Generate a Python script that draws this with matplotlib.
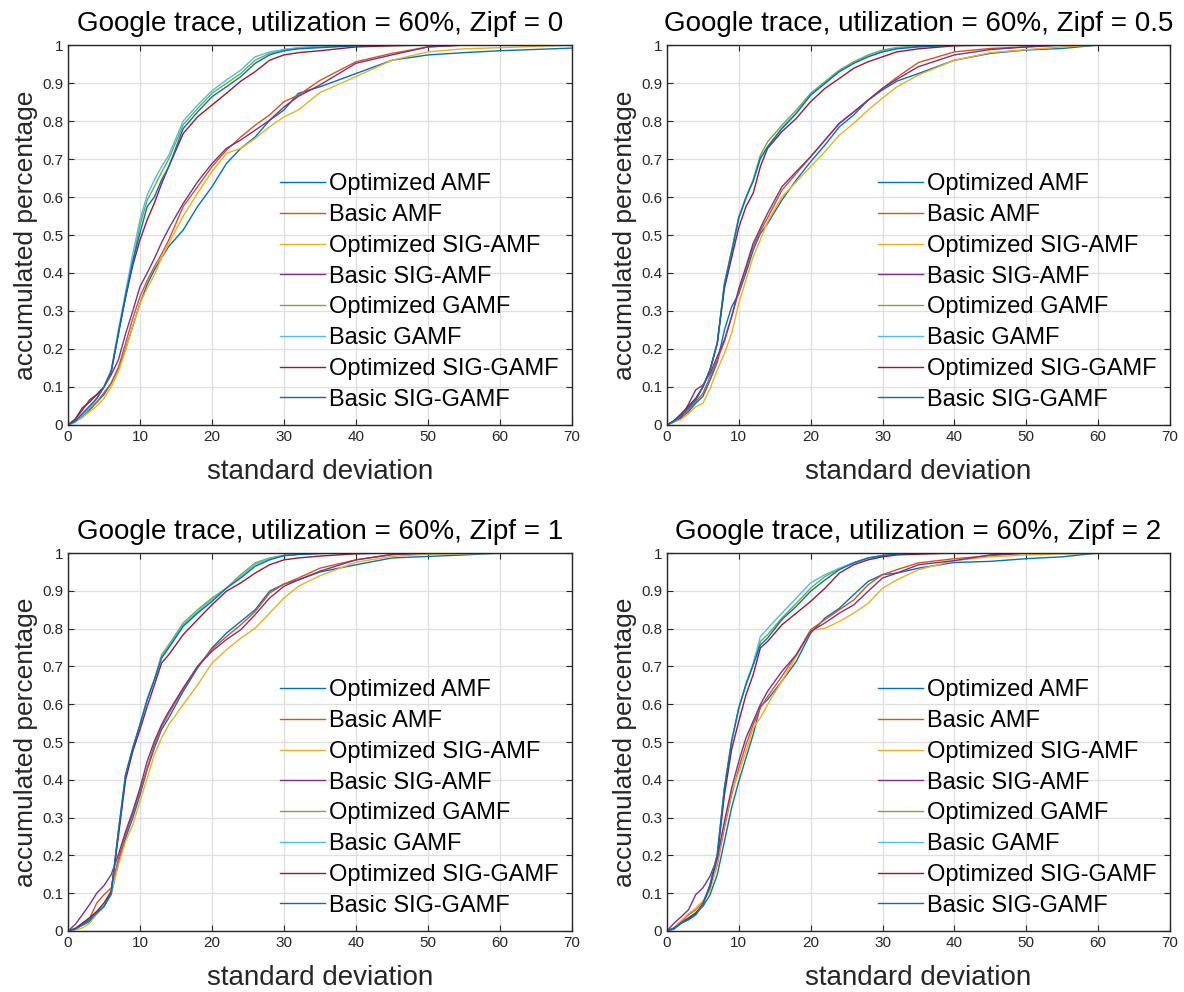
import matplotlib
matplotlib.use("Agg")
import matplotlib.pyplot as plt

plt.rcParams["font.family"] = ["Liberation Sans", "DejaVu Sans"]

# x positions (standard deviation) at which the curves were read
X = [0, 1, 2, 3, 4, 5, 6, 7, 8, 9, 10, 11, 12, 13, 14, 16, 18, 20, 22, 24,
     26, 28, 30, 32, 35, 40, 45, 50, 55, 60, 70]

SERIES = [
    "Optimized AMF", "Basic AMF", "Optimized SIG-AMF", "Basic SIG-AMF",
    "Optimized GAMF", "Basic GAMF", "Optimized SIG-GAMF", "Basic SIG-GAMF",
]
COLORS = ["#0072BD", "#D95319", "#EDB120", "#7E2F8E",
          "#77AC30", "#4DBEEE", "#A2142F", "#0072BD"]

ZIPF = ["0", "0.5", "1", "2"]

# Zipf = 0
z0_opt_amf = [0, .01, .02, .04, .06, .08, .11, .15, .2, .26, .32, .37, .408, .44, .47, .513, .575, .627, .688, .728, .758, .802, .829, .873, .89, .925, .96, .974, .98, .985, .992]
z0_basic_amf = [0, .01, .025, .04, .06, .085, .11, .15, .215, .28, .338, .38, .417, .45, .487, .575, .627, .68, .723, .758, .789, .816, .851, .868, .907, .956, .978, .995, 1, 1, 1]
z0_opt_sig_amf = [0, .008, .02, .035, .05, .07, .1, .14, .197, .26, .32, .36, .395, .44, .478, .55, .61, .667, .715, .728, .754, .785, .811, .829, .875, .917, .96, .982, .99, .993, 1]
z0_basic_sig_amf = [0, .015, .039, .066, .08, .1, .132, .171, .24, .30, .364, .40, .438, .48, .517, .583, .64, .688, .728, .75, .776, .802, .837, .865, .895, .952, .974, .995, 1, 1, 1]
z0_opt_gamf = [0, .008, .025, .045, .07, .1, .14, .24, .34, .43, .526, .592, .627, .665, .70, .79, .833, .873, .899, .925, .96, .978, .988, .992, .995, .998, 1, 1, 1, 1, 1]
z0_basic_gamf = [0, .008, .025, .045, .07, .1, .145, .25, .35, .45, .54, .605, .645, .68, .71, .80, .842, .88, .908, .934, .969, .982, .988, .993, .997, 1, 1, 1, 1, 1, 1]
z0_opt_sig_gamf = [0, .015, .045, .06, .08, .1, .14, .24, .335, .42, .487, .54, .584, .635, .68, .767, .811, .842, .873, .905, .93, .96, .974, .98, .985, .995, .998, 1, 1, 1, 1]
z0_basic_sig_gamf = [0, .01, .03, .05, .07, .1, .14, .24, .34, .43, .505, .575, .60, .645, .68, .78, .824, .864, .89, .917, .952, .974, .985, .99, .993, .998, 1, 1, 1, 1, 1]

# Zipf = 0.5
z05_opt_amf = [0, .008, .02, .035, .057, .075, .118, .165, .25, .311, .346, .40, .46, .504, .53, .592, .645, .693, .737, .785, .816, .855, .882, .905, .925, .96, .978, .987, .991, 1, 1]
z05_basic_amf = [0, .01, .02, .04, .061, .083, .127, .171, .22, .285, .35, .41, .47, .51, .545, .618, .662, .706, .75, .794, .824, .855, .886, .915, .954, .982, .991, .995, 1, 1, 1]
z05_opt_sig_amf = [0, .008, .015, .03, .048, .057, .096, .145, .188, .241, .32, .382, .443, .487, .535, .60, .64, .68, .72, .763, .794, .829, .86, .89, .921, .96, .98, .988, .995, 1, 1]
z05_basic_sig_amf = [0, .01, .02, .055, .092, .105, .136, .18, .224, .285, .359, .417, .478, .518, .557, .627, .667, .706, .75, .794, .824, .855, .886, .91, .943, .974, .988, .995, 1, 1, 1]
z05_opt_gamf = [0, .01, .026, .045, .066, .1, .145, .215, .373, .46, .548, .60, .645, .71, .745, .789, .829, .873, .904, .934, .956, .974, .987, .993, .998, 1, 1, 1, 1, 1, 1]
z05_basic_gamf = [0, .01, .026, .045, .066, .1, .145, .215, .37, .455, .545, .598, .642, .70, .732, .782, .822, .87, .90, .931, .953, .971, .984, .993, .996, 1, 1, 1, 1, 1, 1]
z05_opt_sig_gamf = [0, .012, .03, .05, .07, .1, .145, .215, .36, .44, .52, .575, .61, .68, .728, .772, .807, .851, .886, .912, .939, .956, .969, .982, .99, .998, 1, 1, 1, 1, 1]
z05_basic_sig_gamf = [0, .01, .026, .045, .066, .1, .145, .215, .37, .455, .545, .598, .642, .702, .732, .78, .82, .868, .899, .93, .952, .969, .982, .99, .995, 1, 1, 1, 1, 1, 1]

# Zipf = 1
z1_opt_amf = [0, .005, .015, .025, .045, .065, .096, .18, .246, .299, .36, .427, .484, .533, .564, .634, .696, .749, .788, .819, .85, .899, .918, .929, .95, .969, .987, .991, .995, 1, 1]
z1_basic_amf = [0, .005, .021, .034, .074, .096, .114, .19, .255, .31, .37, .431, .493, .54, .575, .64, .70, .745, .779, .81, .845, .894, .918, .934, .96, .982, .996, 1, 1, 1, 1]
z1_opt_sig_amf = [0, .003, .008, .02, .045, .065, .1, .175, .237, .281, .343, .405, .467, .511, .546, .599, .651, .709, .744, .775, .801, .841, .881, .912, .94, .976, .991, .997, .998, .999, 1]
z1_basic_sig_amf = [0, .017, .043, .07, .1, .12, .149, .202, .263, .317, .378, .449, .502, .546, .581, .643, .70, .74, .771, .797, .837, .881, .912, .929, .952, .982, .996, 1, 1, 1, 1]
z1_opt_gamf = [0, .005, .017, .03, .048, .065, .1, .263, .413, .484, .546, .612, .665, .731, .757, .815, .85, .881, .907, .943, .974, .987, .994, .997, .999, 1, 1, 1, 1, 1, 1]
z1_basic_gamf = [0, .005, .017, .03, .048, .065, .1, .263, .413, .484, .546, .612, .665, .725, .752, .81, .845, .877, .907, .938, .97, .985, .993, .997, .999, 1, 1, 1, 1, 1, 1]
z1_opt_sig_gamf = [0, .007, .02, .035, .052, .074, .105, .25, .40, .475, .533, .594, .651, .709, .731, .784, .824, .863, .899, .921, .947, .969, .982, .987, .992, .998, 1, 1, 1, 1, 1]
z1_basic_sig_gamf = [0, .005, .017, .03, .048, .065, .1, .263, .413, .484, .546, .612, .665, .722, .749, .806, .841, .872, .907, .934, .965, .982, .993, .996, .999, 1, 1, 1, 1, 1, 1]

# Zipf = 2
z2_opt_amf = [0, .005, .021, .035, .048, .065, .096, .149, .237, .326, .396, .458, .52, .594, .612, .661, .713, .788, .828, .854, .89, .925, .943, .947, .96, .975, .978, .985, .99, 1, 1]
z2_basic_amf = [0, .008, .025, .043, .056, .078, .114, .175, .273, .36, .431, .493, .546, .59, .62, .674, .731, .797, .824, .85, .876, .916, .943, .956, .974, .985, .993, 1, 1, 1, 1]
z2_opt_sig_amf = [0, .008, .028, .046, .06, .08, .105, .183, .28, .368, .42, .475, .537, .564, .599, .661, .726, .795, .801, .819, .841, .867, .907, .929, .956, .98, .99, .995, .998, .999, 1]
z2_basic_sig_amf = [0, .021, .038, .056, .096, .114, .145, .193, .29, .378, .449, .511, .555, .599, .634, .687, .731, .793, .815, .841, .863, .899, .934, .947, .969, .98, .995, 1, 1, 1, 1]
z2_opt_gamf = [0, .007, .021, .03, .043, .07, .122, .202, .378, .502, .59, .652, .704, .766, .784, .828, .867, .907, .938, .958, .974, .987, .993, .997, 1, 1, 1, 1, 1, 1, 1]
z2_basic_gamf = [0, .007, .021, .03, .043, .07, .122, .202, .378, .502, .59, .655, .708, .779, .80, .841, .881, .921, .943, .96, .975, .987, .994, .998, 1, 1, 1, 1, 1, 1, 1]
z2_opt_sig_gamf = [0, .008, .022, .033, .046, .072, .118, .195, .36, .48, .555, .625, .678, .749, .766, .81, .841, .872, .907, .947, .969, .982, .99, .995, .997, 1, 1, 1, 1, 1, 1]
z2_basic_sig_gamf = [0, .007, .021, .03, .043, .07, .122, .202, .378, .502, .59, .652, .704, .757, .775, .824, .859, .899, .929, .956, .974, .987, .993, .997, 1, 1, 1, 1, 1, 1, 1]

PANELS = [
    [z0_opt_amf, z0_basic_amf, z0_opt_sig_amf, z0_basic_sig_amf,
     z0_opt_gamf, z0_basic_gamf, z0_opt_sig_gamf, z0_basic_sig_gamf],
    [z05_opt_amf, z05_basic_amf, z05_opt_sig_amf, z05_basic_sig_amf,
     z05_opt_gamf, z05_basic_gamf, z05_opt_sig_gamf, z05_basic_sig_gamf],
    [z1_opt_amf, z1_basic_amf, z1_opt_sig_amf, z1_basic_sig_amf,
     z1_opt_gamf, z1_basic_gamf, z1_opt_sig_gamf, z1_basic_sig_gamf],
    [z2_opt_amf, z2_basic_amf, z2_opt_sig_amf, z2_basic_sig_amf,
     z2_opt_gamf, z2_basic_gamf, z2_opt_sig_gamf, z2_basic_sig_gamf],
]

# axes rectangles in figure fractions
AX_POS = [
    [0.0574, 0.5716, 0.4257, 0.3830],
    [0.5633, 0.5716, 0.4248, 0.3830],
    [0.0574, 0.0615, 0.4257, 0.3810],
    [0.5633, 0.0615, 0.4248, 0.3810],
]

AXIS_COLOR = "#262626"

fig = plt.figure(figsize=(11.84, 9.92), dpi=100)

for i_panel, curves in enumerate(PANELS):
    ax = fig.add_axes(AX_POS[i_panel])
    for curve, name, color in zip(curves, SERIES, COLORS):
        ax.plot(X, curve, color=color, linewidth=1.0, label=name)

    ax.set_xlim(0, 70)
    ax.set_ylim(0, 1)
    ax.set_xticks(range(0, 71, 10))
    ax.set_yticks([i / 10 for i in range(11)])
    ax.set_yticklabels(["0"] + [f"{i / 10:.1f}" for i in range(1, 10)] + ["1"])
    ax.tick_params(direction="in", top=True, right=True, labelsize=11,
                   colors=AXIS_COLOR, length=4, width=0.8)
    ax.grid(True, color="#dedede", linewidth=0.9)
    ax.set_axisbelow(True)
    for spine in ax.spines.values():
        spine.set_color(AXIS_COLOR)
        spine.set_linewidth(1.0)

    ax.set_title(f"Google trace, utilization = 60%, Zipf = {ZIPF[i_panel]}",
                 fontsize=20, pad=10)
    ax.set_xlabel("standard deviation", fontsize=20, color=AXIS_COLOR,
                  labelpad=11)
    ax.set_ylabel("accumulated percentage", fontsize=19, color=AXIS_COLOR,
                  labelpad=3)

    ax.legend(
        loc="lower left",
        bbox_to_anchor=(0.42, 0.038),
        frameon=False,
        fontsize=17,
        handlelength=1.9,
        handletextpad=0.18,
        labelspacing=0.37,
        borderpad=0,
        borderaxespad=0,
    )

fig.savefig("out.png", dpi=100)
